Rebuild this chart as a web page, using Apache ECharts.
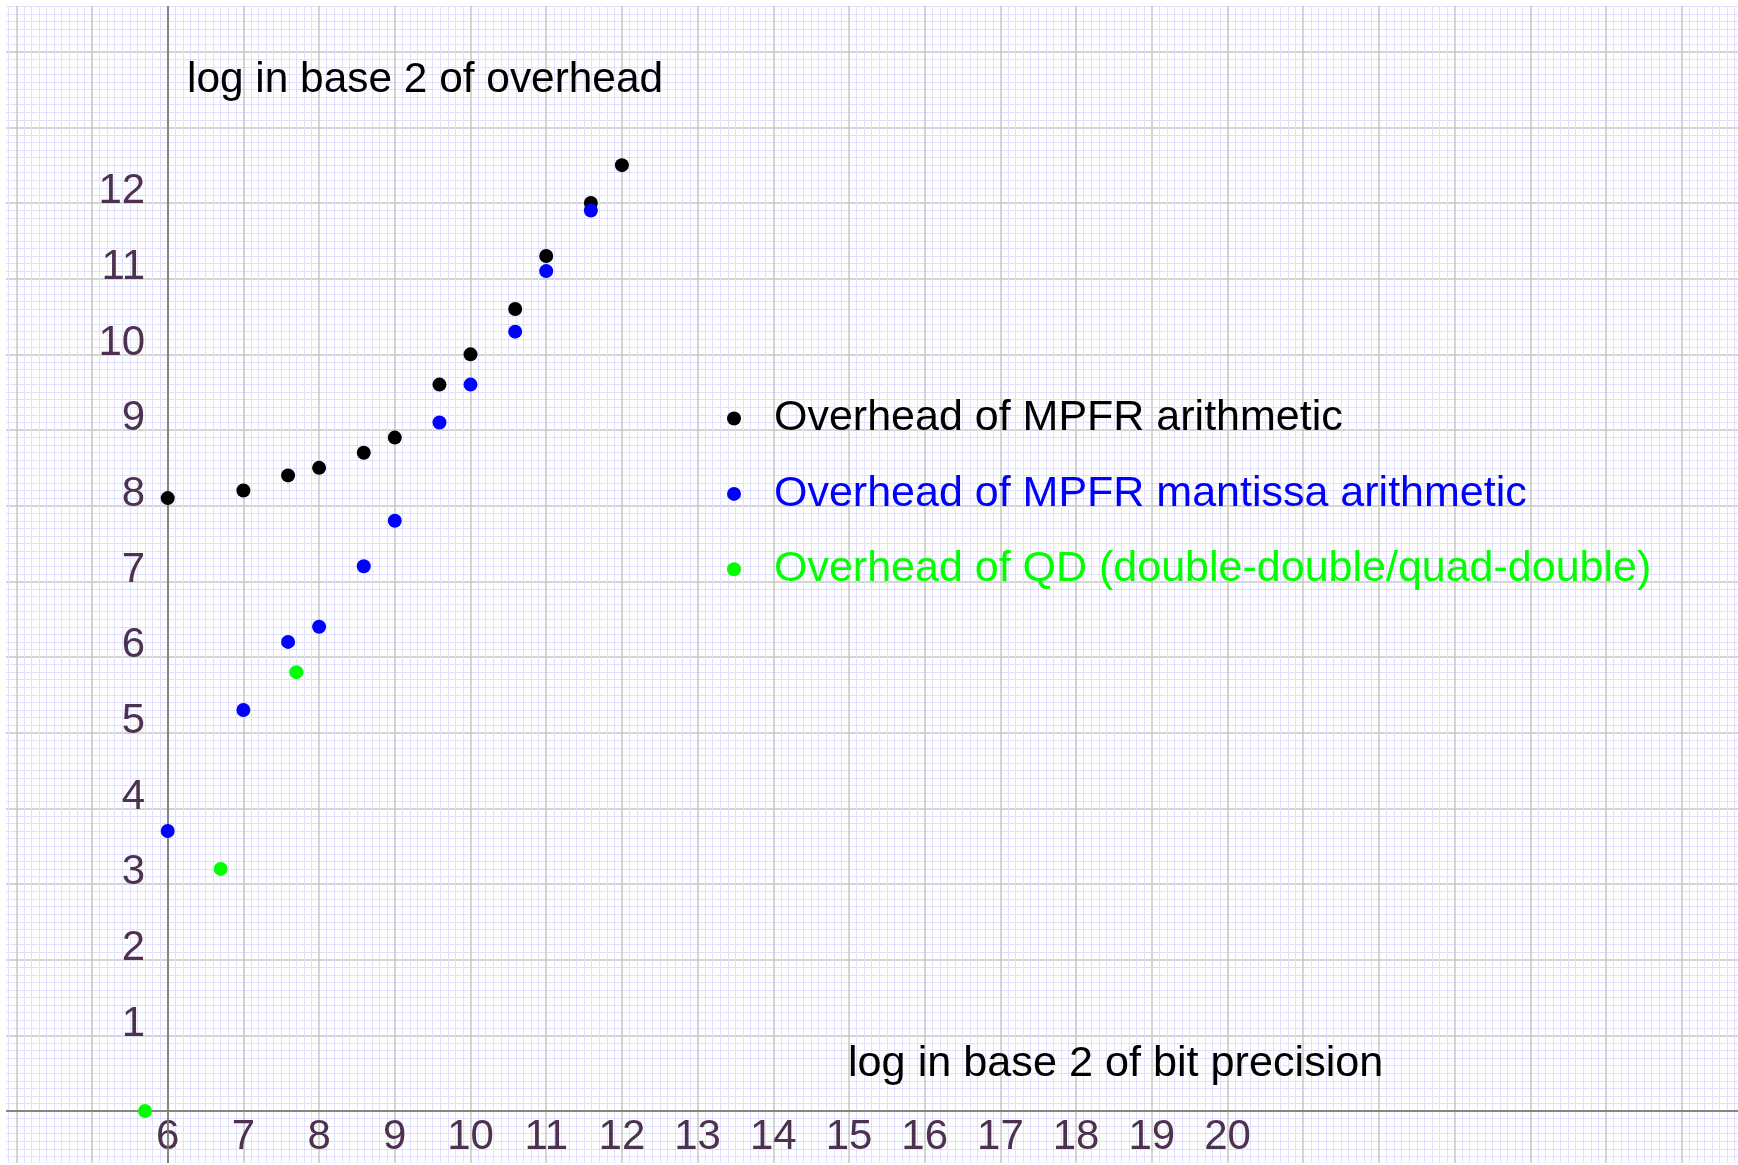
<!DOCTYPE html>
<html>
<head>
<meta charset="utf-8">
<script src="https://cdn.jsdelivr.net/npm/echarts@6/dist/echarts.min.js"></script>
<style>
html,body{margin:0;padding:0;background:#fff;}
#c{width:1738px;height:1165px;}
</style>
</head>
<body>
<div id="c"></div>
<script>
// ---- data (log2 of bit precision, log2 of overhead) ----
const mpfrX = [6, 7, 7.59, 8, 8.59, 9, 9.59, 10, 10.59, 11, 11.59, 12];
const mpfrY = [8.1, 8.2, 8.4, 8.5, 8.7, 8.9, 9.6, 10.0, 10.6, 11.3, 12.0, 12.5];
const mantX = [6, 7, 7.59, 8, 8.59, 9, 9.59, 10, 10.59, 11, 11.59];
const mantY = [3.7, 5.3, 6.2, 6.4, 7.2, 7.8, 9.1, 9.6, 10.3, 11.1, 11.9];
const qdX = [5.7, 6.7, 7.7];
const qdY = [0, 3.2, 5.8];
const seriesNames = [
  'Overhead of MPFR arithmetic',
  'Overhead of MPFR mantissa arithmetic',
  'Overhead of QD (double-double/quad-double)'
];
const xTickLabels = [6, 7, 8, 9, 10, 11, 12, 13, 14, 15, 16, 17, 18, 19, 20];
const yTickLabels = [1, 2, 3, 4, 5, 6, 7, 8, 9, 10, 11, 12];
const xAxisTitle = 'log in base 2 of bit precision';
const yAxisTitle = 'log in base 2 of overhead';

// ---- chart ----
const FONT = '"Liberation Sans", Arial, sans-serif';
const TICK_COLOR = '#4d3150';
const MAJOR = '#c6c6c6';
const MINOR = '#e0e0fc';
const AXISC = '#808080';
const zip = (xs, ys) => xs.map((x, i) => [x, ys[i]]);

const chart = echarts.init(document.getElementById('c'), null, {renderer: 'canvas'});
const option = {
  animation: false,
  backgroundColor: '#ffffff',
  grid: {left: -59.4, right: -19.4, top: -24, bottom: -21.7,
         containLabel: false, outerBoundsMode: 'none'},
  xAxis: {
    type: 'value', min: 3, max: 27, interval: 1,
    position: 'bottom', offset: -75.67,
    axisLine: {show: true, onZero: false, lineStyle: {color: AXISC, width: 1.5}},
    axisTick: {show: false},
    axisLabel: {
      show: true,
      formatter: v => xTickLabels.includes(v) ? String(v) : '',
      color: TICK_COLOR, fontSize: 42, fontFamily: FONT,
      margin: 11.8, lineHeight: 30, verticalAlign: 'top'
    },
    splitLine: {show: true, lineStyle: {color: MAJOR, width: 1.5}},
    minorTick: {show: false, splitNumber: 10},
    minorSplitLine: {show: true, lineStyle: {color: MINOR, width: 1}}
  },
  yAxis: {
    type: 'value', min: -1, max: 15, interval: 1,
    position: 'left', offset: -227.1,
    axisLine: {show: true, onZero: false, lineStyle: {color: AXISC, width: 1.5}},
    axisTick: {show: false},
    axisLabel: {
      show: true,
      formatter: v => yTickLabels.includes(v) ? String(v) : '',
      color: TICK_COLOR, fontSize: 42, fontFamily: FONT,
      margin: 22.5, align: 'right', verticalAlign: 'bottom', lineHeight: 22.4
    },
    splitLine: {show: true, lineStyle: {color: MAJOR, width: 1.5}},
    minorTick: {show: false, splitNumber: 10},
    minorSplitLine: {show: true, lineStyle: {color: MINOR, width: 1}}
  },
  legend: {
    orient: 'vertical', left: 727, top: 397, padding: 0,
    itemWidth: 14, itemHeight: 14, itemGap: 32.4,
    icon: 'circle', selectedMode: false,
    textStyle: {fontSize: 43, fontFamily: FONT, lineHeight: 43, padding: [0, 0, 0, 28]},
    data: [
      {name: seriesNames[0], textStyle: {color: '#000000'}},
      {name: seriesNames[1], textStyle: {color: '#0000ff'}},
      {name: seriesNames[2], textStyle: {color: '#00ff00'}}
    ]
  },
  graphic: [
    {type: 'rect', z: 100, shape: {x: 0, y: 0, width: 1738, height: 6}, style: {fill: '#fff'}},
    {type: 'rect', z: 100, shape: {x: 0, y: 0, width: 6, height: 1165}, style: {fill: '#fff'}},
    {type: 'rect', z: 100, shape: {x: 0, y: 1163, width: 1738, height: 2}, style: {fill: '#fff'}},
    {type: 'text', z: 100, x: 187, y: 79.9,
      style: {text: yAxisTitle, font: '42.4px ' + FONT, fill: '#000', align: 'left', verticalAlign: 'middle'}},
    {type: 'text', z: 100, x: 848, y: 1063.8,
      style: {text: xAxisTitle, font: '43.2px ' + FONT, fill: '#000', align: 'left', verticalAlign: 'middle'}}
  ],
  series: [
    {
      name: seriesNames[0], type: 'scatter', symbolSize: 14,
      itemStyle: {color: '#000000', opacity: 1}, z: 5,
      data: zip(mpfrX, mpfrY),
      markLine: {
        silent: true, symbol: 'none', animation: false,
        label: {show: false},
        lineStyle: {color: AXISC, width: 1.5, type: 'solid'},
        data: [{xAxis: 6}, {yAxis: 0}]
      }
    },
    {
      name: seriesNames[1], type: 'scatter', symbolSize: 14,
      itemStyle: {color: '#0000ff', opacity: 1}, z: 6,
      data: zip(mantX, mantY)
    },
    {
      name: seriesNames[2], type: 'scatter', symbolSize: 14,
      itemStyle: {color: '#00ff00', opacity: 1}, z: 7,
      data: zip(qdX, qdY)
    }
  ]
};
chart.setOption(option);
</script>
</body>
</html>
